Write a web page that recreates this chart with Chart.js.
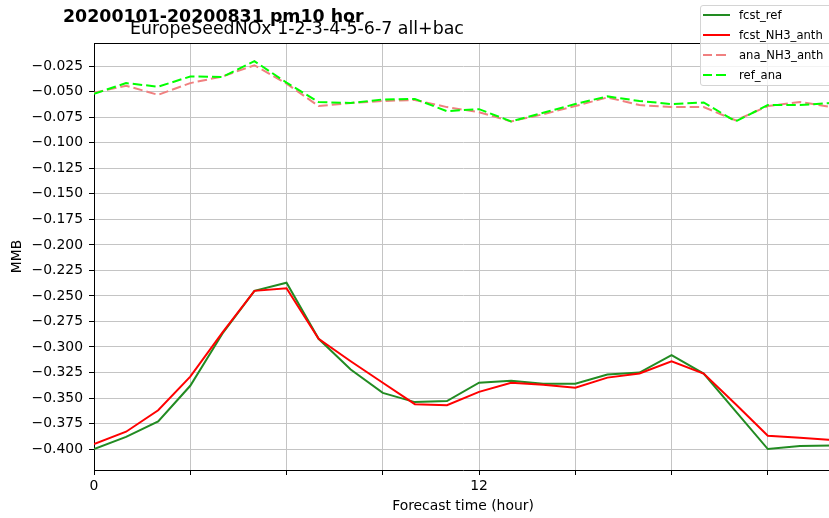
<!DOCTYPE html>
<html>
<head>
<meta charset="utf-8">
<script src="https://cdn.jsdelivr.net/npm/chart.js@4.4.1/dist/chart.umd.min.js"></script>
<style>
  html, body { margin: 0; padding: 0; background: #fff; overflow: hidden; }
  #wrap { position: relative; width: 829px; height: 518px; overflow: hidden; }
  #chart { position: absolute; left: 0; top: 0; }
  .title { position: absolute; font-family: 'DejaVu Sans'; font-size: 17.4px; line-height: 17.4px; white-space: nowrap; color: #000; }
  #legend {
    position: absolute; left: 700px; top: 5px; width: 150px; height: 79px;
    border: 1px solid #d4d4d4; border-radius: 3px; background: rgba(255,255,255,0.8);
    font-family: 'DejaVu Sans'; font-size: 11.6px; color: #000;
  }
  .row { position: absolute; left: 0; height: 20px; display: flex; align-items: center; }
  .swatch { width: 27px; height: 2px; margin-left: 2px; margin-right: 9px; }
</style>
</head>
<body>
<div id="wrap">
  <canvas id="chart" width="840" height="518"></canvas>
  <div class="title" style="left:63px; top:8px; font-weight:bold;">20200101-20200831 pm10 hor</div>
  <div class="title" style="left:130px; top:19.6px;">EuropeSeedNOx 1-2-3-4-5-6-7 all+bac</div>
  <div id="legend"></div>
</div>
<script>
// forecast hours
const hours = [0, 1, 2, 3, 4, 5, 6, 7, 8, 9, 10, 11, 12, 13, 14, 15, 16, 17, 18, 19, 20, 21, 22, 23];

// MMB per forecast hour
const fcstRef = [-0.400, -0.388, -0.373, -0.338, -0.287, -0.245, -0.237, -0.292, -0.322, -0.345, -0.354, -0.353,
                 -0.335, -0.333, -0.336, -0.336, -0.327, -0.325, -0.308, -0.326, -0.363, -0.400, -0.397, -0.3965];
const fcstNH3 = [-0.395, -0.383, -0.362, -0.329, -0.286, -0.245, -0.2425, -0.292, -0.314, -0.335, -0.356, -0.357,
                 -0.344, -0.335, -0.337, -0.340, -0.330, -0.326, -0.314, -0.326, -0.356, -0.387, -0.389, -0.391];
const anaNH3 = [-0.051, -0.044, -0.053, -0.0415, -0.035, -0.024, -0.042, -0.064, -0.061, -0.059, -0.058, -0.065,
                -0.070, -0.079, -0.072, -0.064, -0.0555, -0.063, -0.065, -0.065, -0.078, -0.064, -0.060, -0.065];
const refAna = [-0.052, -0.0415, -0.045, -0.035, -0.0355, -0.020, -0.041, -0.060, -0.061, -0.0575, -0.057, -0.069,
                -0.067, -0.079, -0.0705, -0.062, -0.0545, -0.059, -0.062, -0.0605, -0.079, -0.063, -0.063, -0.061];

// axis ticks
const xTicks = [0, 3, 6, 9, 12, 15, 18, 21];
const xTickLabels = ['0', '', '', '', '12', '', '', ''];
const yTicks = [-0.4, -0.375, -0.35, -0.325, -0.3, -0.275, -0.25, -0.225, -0.2, -0.175, -0.15, -0.125, -0.1, -0.075, -0.05, -0.025];

const seriesNames = ['fcst_ref', 'fcst_NH3_anth', 'ana_NH3_anth', 'ref_ana'];
const seriesColors = ['#228b22', '#ff0000', '#f08080', '#00ff00'];
const seriesDashed = [false, false, true, true];
const DASH = [9.5, 4];

const font = { family: 'DejaVu Sans', size: 13.9 };

const datasets = [fcstRef, fcstNH3, anaNH3, refAna].map((vals, i) => ({
    label: seriesNames[i],
    data: hours.map((h, j) => ({ x: h, y: vals[j] })),
    borderColor: seriesColors[i],
    borderWidth: 2,
    borderDash: seriesDashed[i] ? DASH : [],
    pointRadius: 0,
    tension: 0,
    fill: false,
    order: 3 - i // later series on top, like matplotlib
}));

// top and right spines
const frame = {
    id: 'frame',
    afterDatasetsDraw(chart) {
        const { ctx, chartArea: a } = chart;
        ctx.save();
        ctx.strokeStyle = '#000';
        ctx.lineWidth = 1;
        ctx.beginPath();
        ctx.moveTo(a.left, a.top + 0.5);
        ctx.lineTo(a.right, a.top + 0.5);
        ctx.lineTo(a.right, a.bottom);
        ctx.stroke();
        ctx.restore();
    }
};

new Chart(document.getElementById('chart').getContext('2d'), {
    type: 'line',
    data: { datasets: datasets },
    options: {
        responsive: false,
        animation: false,
        devicePixelRatio: 1,
        layout: { padding: { top: 43, right: 8, left: 0, bottom: 0 } },
        plugins: { legend: { display: false }, tooltip: { enabled: false }, title: { display: false } },
        scales: {
            x: {
                type: 'linear',
                min: 0,
                max: 23,
                afterBuildTicks: s => { s.ticks = xTicks.map(v => ({ value: v })); },
                afterFit: s => { s.height = 48; },
                ticks: {
                    color: '#000',
                    font: font,
                    padding: 3,
                    maxRotation: 0,
                    autoSkip: false,
                    callback: (v) => xTickLabels[xTicks.indexOf(v)]
                },
                grid: { color: '#c4c4c4', lineWidth: 1, tickColor: '#000', tickLength: 5 },
                border: { color: '#000', width: 1 },
                title: { display: true, text: 'Forecast time (hour)', color: '#000', font: font, padding: { top: 0, bottom: 3 } }
            },
            y: {
                min: -0.4205,
                max: -0.0022,
                afterBuildTicks: s => { s.ticks = yTicks.map(v => ({ value: v })); },
                afterFit: s => { s.width = 94; },
                ticks: {
                    color: '#000',
                    font: font,
                    padding: 6,
                    autoSkip: false,
                    callback: v => '\u2212' + Math.abs(v).toFixed(3)
                },
                grid: { color: '#c4c4c4', lineWidth: 1, tickColor: '#000', tickLength: 5 },
                border: { color: '#000', width: 1 },
                title: { display: true, text: 'MMB', color: '#000', font: font, padding: { top: 8.7, bottom: 0 } }
            }
        }
    },
    plugins: [frame]
});

// legend
const legend = document.getElementById('legend');
const rowCenters = [15, 35, 55, 75];
seriesNames.forEach((name, i) => {
    const row = document.createElement('div');
    row.className = 'row';
    row.style.top = (rowCenters[i] - 6 - 10) + 'px';
    const sw = document.createElement('div');
    sw.className = 'swatch';
    const c = seriesColors[i];
    sw.style.background = seriesDashed[i]
        ? `repeating-linear-gradient(to right, ${c} 0 ${DASH[0]}px, transparent ${DASH[0]}px ${DASH[0] + DASH[1]}px)`
        : c;
    const label = document.createElement('span');
    label.textContent = name;
    row.appendChild(sw);
    row.appendChild(label);
    legend.appendChild(row);
});
</script>
</body>
</html>
